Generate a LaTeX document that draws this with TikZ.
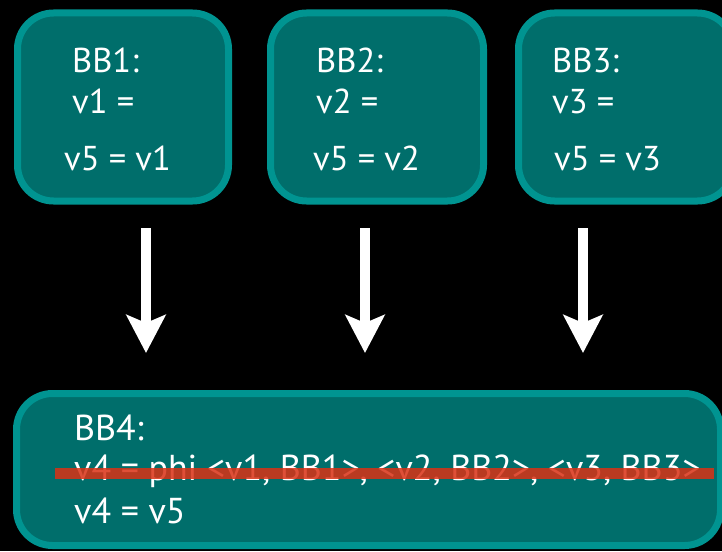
\documentclass[tikz,border=0pt]{standalone}
\usepackage{fontspec}
\setmainfont{PT Sans}
\usetikzlibrary{arrows.meta}
\definecolor{bbfill}{RGB}{0,110,107}
\definecolor{bbline}{RGB}{0,148,145}
\definecolor{strike}{RGB}{218,49,21}
\tikzset{
  bbox/.style={draw=bbline, fill=bbfill, line width=7pt, rounded corners=36pt,
               inner sep=0pt, outer sep=0pt},
  code/.style={anchor=base west, inner sep=0pt, text=white,
               font=\fontsize{34.5}{40}\selectfont},
  bigcode/.style={anchor=base west, inner sep=0pt, text=white,
               font=\fontsize{36}{42}\selectfont},
  flow/.style={draw=white, line width=10pt,
               -{Stealth[length=38pt,width=39pt,inset=8pt]}},
}
\begin{document}
\begin{tikzpicture}[x=1pt,y=-1pt]
  \fill[black] (0,0) rectangle (722,551);
  \useasboundingbox (0,0) rectangle (722,551);
  \begin{scope}
    \clip (0,0) rectangle (722,551);
    % predecessor blocks
    \node[bbox, minimum width=211pt, minimum height=188pt] (bb1) at (123,107) {};
    \node[bbox, minimum width=213pt, minimum height=188pt] (bb2) at (377,107) {};
    \node[bbox, minimum width=215pt, minimum height=188pt] (bb3) at (626,107) {};
    % join block
    \node[bbox, minimum width=704pt, minimum height=152pt] (bb4) at (368.5,469.5) {};
  \end{scope}

  % contents of BB1
  \node[code] (t11) at (72,73) {BB1:};
  \node[code] (t12) at (72,113) {v1 =};
  \node[code] (t13) at (64,170) {v5 = v1};
  % contents of BB2
  \node[code] (t21) at (316,73) {BB2:};
  \node[code] (t22) at (316,113) {v2 =};
  \node[code] (t23) at (313,170) {v5 = v2};
  % contents of BB3
  \node[code] (t31) at (552,73) {BB3:};
  \node[code] (t32) at (552,113) {v3 =};
  \node[code] (t33) at (554,170) {v5 = v3};
  % contents of BB4
  \node[bigcode] (t41) at (74,440) {BB4:};
  \node[bigcode] (t42) at (74,480) {v4 = phi <v1, BB1>, <v2, BB2>, <v3, BB3>};
  \node[bigcode] (t43) at (74,523) {v4 = v5};

  % the phi line is struck out
  \coordinate (s1) at (55,473.5);
  \coordinate (s2) at (714,473.5);
  \draw[strike, opacity=0.85, line width=11pt] (s1) -- (s2);

  % control flow edges
  \coordinate (a1s) at (146,228);
  \coordinate (a1e) at (146,353);
  \coordinate (a2s) at (365,228);
  \coordinate (a2e) at (365,353);
  \coordinate (a3s) at (583,228);
  \coordinate (a3e) at (583,353);
  \draw[flow] (a1s) -- (a1e);
  \draw[flow] (a2s) -- (a2e);
  \draw[flow] (a3s) -- (a3e);
\end{tikzpicture}
\end{document}
